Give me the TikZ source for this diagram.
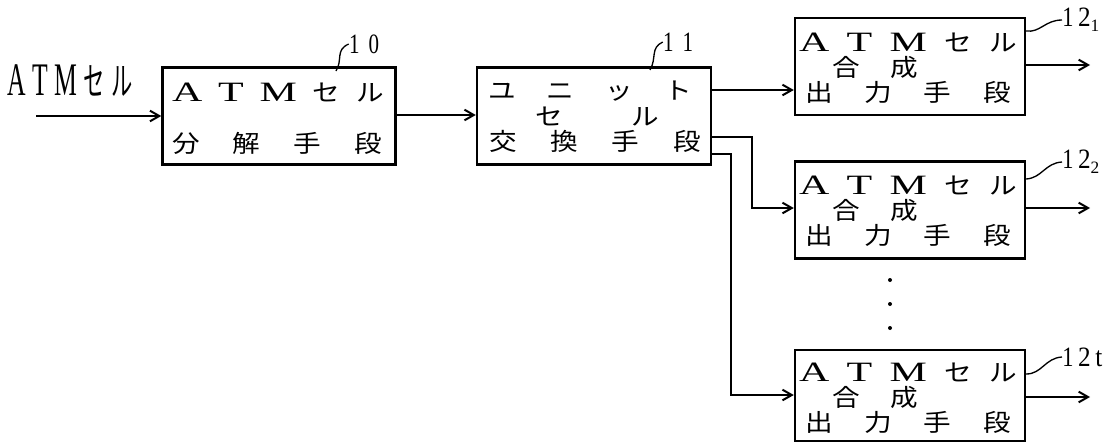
\documentclass[tikz,border=0pt]{standalone}
\usepackage{fontspec}
\usepackage{graphicx}
\setmainfont{Liberation Serif}
\newfontfamily\jp{Noto Sans CJK JP}
\newfontfamily\lat{Liberation Serif}
\usetikzlibrary{arrows.meta,calc}
\newdimen\px \px=0.75pt
\newcommand\wideL[1]{\scalebox{1.5}[1]{\lat #1}}
\newcommand\jc[1]{\scalebox{1.15}[1]{\jp #1}}
\newcommand\narrowC[1]{\scalebox{0.55}[1]{#1}}
\newcommand\spreadrow[2]{\makebox[#1\px][s]{#2}}
\newcommand\bfs{\fontsize{18}{18}\selectfont}
\newcommand\lfs{\fontsize{21}{21}\selectfont}
\newcommand\atmrow{{\lfs\wideL{A}\hfil\wideL{T}\hfil\wideL{M}}\hfil{\bfs\jc{セ}}\hfil{\bfs\jc{ル}}}
\tikzset{
  blk/.style={draw, line width=1.8pt, minimum width=230\px, minimum height=97\px, inner sep=0pt},
  txt/.style={inner sep=0pt, anchor=base, text height=12.5pt, text depth=0.5pt},
  wire/.style={line width=1.5pt},
  arr/.style={wire, -{Straight Barb[length=7pt,width=8pt]}},
  lead/.style={line width=1pt},
  num/.style={inner sep=0pt, anchor=center, font=\fontsize{21}{21}\selectfont},
  dotm/.style={circle, fill, inner sep=0pt, minimum size=4\px}
}
\begin{document}
\begin{tikzpicture}[x=0.75pt,y=-0.75pt]
\useasboundingbox (0,0) rectangle (1114,443);

% left label
\node[inner sep=0pt] (lin) at (70,81) {\spreadrow{125}{\fontsize{35}{35}\selectfont\narrowC{\lat A}\hfil\narrowC{\lat T}\hfil\narrowC{\lat M}\hfil{\fontsize{29}{29}\selectfont\narrowC{\jp セ}\hfil\narrowC{\jp ル}}}};
\coordinate (in) at (36,116);

% boxes
\node[blk, minimum width=233\px] (b10) at (279,116) {};
\node[blk, minimum width=234\px] (b11) at (594,116) {};
\node[blk] (b121) at (910,66.5) {};
\node[blk] (b122) at (910,210) {};
\node[blk, minimum height=91\px] (b12t) at (910,395.5) {};

% box 10 text (baseline = ink centre + 9)
\node[txt] (t10a) at (278,101) {\spreadrow{212}{\atmrow}};
\node[txt] (t10b) at (277,152) {\spreadrow{210}{\bfs\jc{分}\hfil\jc{解}\hfil\jc{手}\hfil\jc{段}}};

% box 11 text
\node[txt] (t11a) at (590,99) {\spreadrow{204}{\bfs\jc{ユ}\hfil\jc{ニ}\hfil\jc{ッ}\hfil\jc{ト}}};
\node[txt] (t11b) at (597,125) {\spreadrow{124}{\bfs\jc{セ}\hfil\jc{ル}}};
\node[txt] (t11c) at (595,150) {\spreadrow{212}{\bfs\jc{交}\hfil\jc{換}\hfil\jc{手}\hfil\jc{段}}};

% box 12 texts
\foreach \b/\cy in {b121/66.5, b122/210, b12t/397}{
  \node[txt] (\b a) at (908,\cy-15.5) {\spreadrow{218}{\atmrow}};
  \node[txt] (\b b) at (875,\cy+9.5) {\spreadrow{86}{\bfs\jc{合}\hfil\jc{成}}};
  \node[txt] (\b c) at (908,\cy+34.5) {\spreadrow{206}{\bfs\jc{出}\hfil\jc{力}\hfil\jc{手}\hfil\jc{段}}};
}

% connectors
\draw[arr] (in) -- (in -| b10.west);
\draw[arr] (b10.east |- 0,115) -- (b11.west |- 0,115);
\draw[arr] (b11.east |- 0,90) -- (b121.west |- 0,90);
\coordinate (j2) at (752,137);
\coordinate (j3) at (731,154);
\draw[arr] (b11.east |- j2) -- (j2) |- (b122.west |- 0,208);
\draw[arr] (b11.east |- j3) -- (j3) |- (b12t.west |- 0,395);

\coordinate (o1) at (1090,65);
\coordinate (o2) at (1090,208);
\coordinate (o3) at (1090,397);
\draw[arr] (b121.east |- o1) -- (o1);
\draw[arr] (b122.east |- o2) -- (o2);
\draw[arr] (b12t.east |- o3) -- (o3);

% dots
\node[dotm] (d1) at (890,280) {};
\node[dotm] (d2) at (890,304) {};
\node[dotm] (d3) at (890,328) {};

% reference labels
\node[num] (l10) at (364,44) {\spreadrow{30}{\scalebox{0.75}[1]{1}\hfil\scalebox{0.75}[1]{0}}};
\draw[lead] (l10.west) .. controls (335,50) and (343,60) .. (336,71);
\node[num] (l11) at (678,42) {\spreadrow{30}{\scalebox{0.75}[1]{1}\hfil\scalebox{0.75}[1]{1}}};
\draw[lead] (l11.west) .. controls (650,48) and (657,58) .. (650,70);

\node[num, anchor=west] (l121) at (1062,20) {\scalebox{0.8}[1]{1}\,\scalebox{0.9}[1]{2}\raisebox{-4pt}{\fontsize{13}{13}\selectfont 1}};
\draw[lead] (b121.east |- 0,31) .. controls (1040,33) and (1045,20) .. (l121.west);
\node[num, anchor=west] (l122) at (1062,162) {\scalebox{0.8}[1]{1}\,\scalebox{0.9}[1]{2}\raisebox{-4pt}{\fontsize{13}{13}\selectfont 2}};
\draw[lead] (b122.east |- 0,179) .. controls (1042,178) and (1045,163) .. (l122.west);
\node[num, anchor=west] (l12t) at (1062,357) {\scalebox{0.8}[1]{1}\,\scalebox{0.9}[1]{2}\,\scalebox{0.9}[1]{t}};
\draw[lead] (b12t.east |- 0,374) .. controls (1042,374) and (1045,358) .. (l12t.west);
\end{tikzpicture}
\end{document}
